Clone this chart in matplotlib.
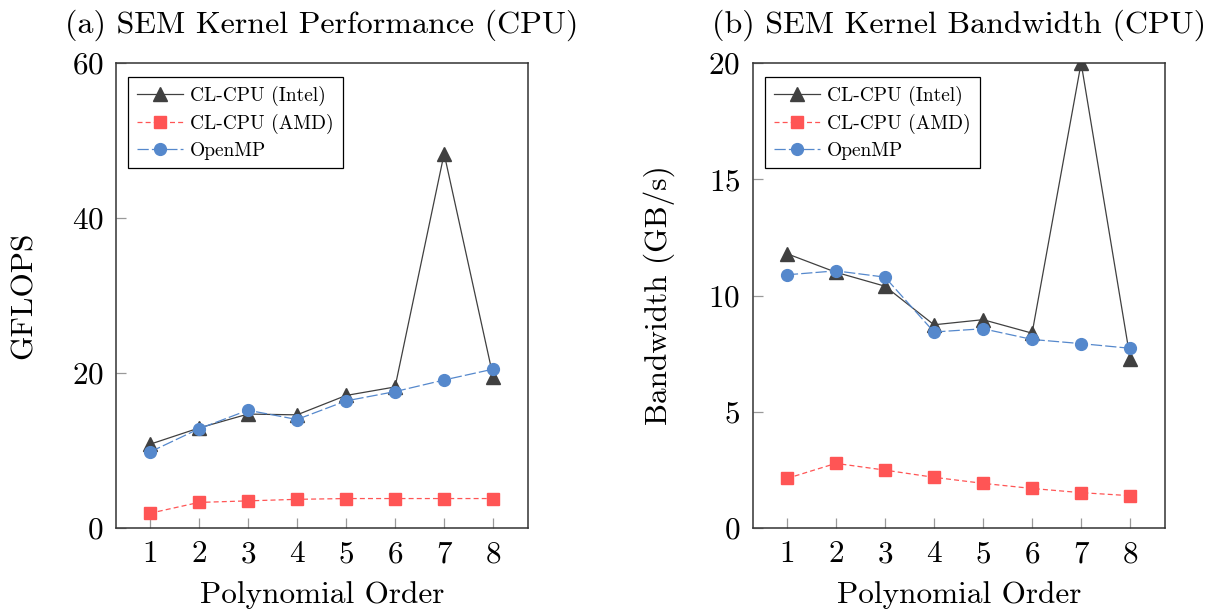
import matplotlib
matplotlib.use('Agg')
from matplotlib import pyplot as plt

plt.rcParams['font.family'] = ['cmr10', 'DejaVu Serif']
plt.rcParams['mathtext.fontset'] = 'cm'
plt.rcParams['axes.formatter.use_mathtext'] = True
plt.rcParams['axes.unicode_minus'] = False

# polynomial order on the x axis
orders = [1, 2, 3, 4, 5, 6, 7, 8]

# (a) performance, GFLOPS
gflops_intel = [10.8, 12.9, 14.7, 14.6, 17.1, 18.2, 48.3, 19.5]
gflops_amd = [1.9, 3.3, 3.5, 3.7, 3.8, 3.8, 3.8, 3.8]
gflops_omp = [9.8, 12.8, 15.2, 14.0, 16.4, 17.6, 19.1, 20.5]

# (b) bandwidth, GB/s
bw_intel = [11.8, 11.0, 10.4, 8.74, 8.96, 8.38, 20.0, 7.28]
bw_amd = [2.13, 2.78, 2.49, 2.18, 1.92, 1.70, 1.52, 1.39]
bw_omp = [10.89, 11.06, 10.79, 8.43, 8.57, 8.11, 7.93, 7.73]

labels = ['CL-CPU (Intel)', 'CL-CPU (AMD)', 'OpenMP']
yticks_a = [0, 20, 40, 60]
yticks_b = [0, 5, 10, 15, 20]

c_intel = '#404040'
c_amd = '#ff5555'
c_omp = '#5588cc'

fig = plt.figure(figsize=(12.1, 6.11), dpi=100)
ax1 = fig.add_axes([116/1210, 83/611, 412/1210, 465/611])
ax2 = fig.add_axes([753/1210, 83/611, 412/1210, 465/611])


def draw(ax, intel, amd, omp, yticks, title, ylabel):
    ax.plot(orders, intel, color=c_intel, lw=0.9, marker='^', markersize=10.5, label=labels[0])
    ax.plot(orders, amd, color=c_amd, lw=0.9, ls=(0, (4, 2.5)), marker='s', markersize=8, label=labels[1])
    ax.plot(orders, omp, color=c_omp, lw=0.9, ls=(0, (9, 2.5)), marker='o', markersize=8.5, label=labels[2])
    ax.set_xlim(0.31, 8.71)
    ax.set_ylim(yticks[0], yticks[-1])
    ax.set_xticks(orders)
    ax.set_yticks(yticks)
    ax.tick_params(direction='in', length=7, width=0.9, color='#999999', labelsize=22.5, pad=9)
    for s in ax.spines.values():
        s.set_color('#333333')
        s.set_linewidth(1.1)
    ax.set_title(title, fontsize=23, pad=22)
    ax.set_xlabel('Polynomial Order', fontsize=22.5, labelpad=9)
    ax.set_ylabel(ylabel, fontsize=22.5, labelpad=24)
    leg = ax.legend(loc='upper left', bbox_to_anchor=(0.029, 0.970), borderaxespad=0,
                    fontsize=14, fancybox=False, framealpha=1, edgecolor='black',
                    handlelength=2.4, handletextpad=0.35, labelspacing=0.4, borderpad=0.45)
    leg.get_frame().set_linewidth(0.9)


draw(ax1, gflops_intel, gflops_amd, gflops_omp, yticks_a,
     '(a) SEM Kernel Performance (CPU)', 'GFLOPS')
draw(ax2, bw_intel, bw_amd, bw_omp, yticks_b,
     '(b) SEM Kernel Bandwidth (CPU)', 'Bandwidth (GB/s)')

plt.savefig('out.png', dpi=100)
